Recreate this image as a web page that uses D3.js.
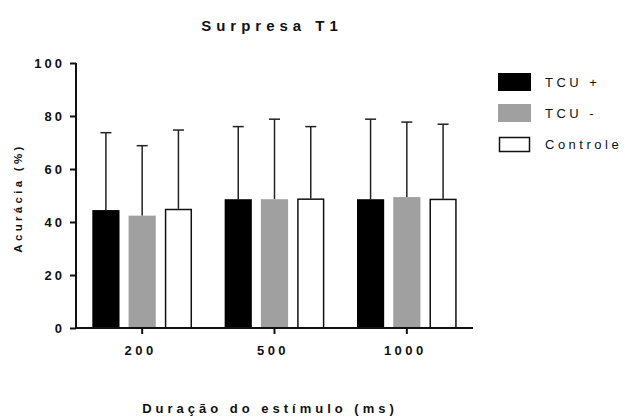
<!DOCTYPE html>
<html lang="pt">
<head>
    <style>
        body { margin: 0; background: #fff; }
        text { font-family: "Liberation Sans", Arial, sans-serif; fill: #111; }
    </style>
    <script src="https://d3js.org/d3.v7.min.js"></script>
</head>
<body>
    <svg width="626" height="419"></svg>
    <script>
        // data
        var durations = ["200", "500", "1000"];
        var groups = ["TCU +", "TCU -", "Controle"];
        var tcuPos = [44.5, 48.6, 48.6];
        var tcuNeg = [42.4, 48.6, 49.4];
        var controle = [45.0, 48.9, 48.8];
        var sdTcuPos = [29.2, 27.4, 30.2];
        var sdTcuNeg = [26.4, 30.2, 28.3];
        var sdControle = [29.7, 27.1, 28.1];
        var yTicks = [0, 20, 40, 60, 80, 100];

        var means = [tcuPos, tcuNeg, controle];
        var sds = [sdTcuPos, sdTcuNeg, sdControle];
        var fills = ["#000000", "#a0a0a0", "#ffffff"];

        var svg = d3.select("svg");

        var x = d3.scaleBand().domain(durations).range([76, 473]);
        var xi = d3.scaleBand().domain(groups).range([0, x.bandwidth()])
            .paddingInner(0.25).paddingOuter(0.45);
        var y = d3.scaleLinear().domain([0, 100]).range([328, 63]);

        var rows = [];
        durations.forEach(function(d, i) {
            groups.forEach(function(g, j) {
                rows.push({dur: d, grp: g, j: j, mean: means[j][i], sd: sds[j][i]});
            });
        });

        // error bars (upper only)
        var eb = svg.append("g").attr("stroke", "#222").attr("stroke-width", 1.5);
        rows.forEach(function(r) {
            var cx = x(r.dur) + xi(r.grp) + xi.bandwidth() / 2;
            eb.append("line").attr("x1", cx).attr("x2", cx)
              .attr("y1", y(r.mean)).attr("y2", y(r.mean + r.sd));
            eb.append("line").attr("x1", cx - 5.5).attr("x2", cx + 5.5)
              .attr("y1", y(r.mean + r.sd)).attr("y2", y(r.mean + r.sd));
        });

        // bars
        svg.append("g").selectAll("rect")
            .data(rows)
            .enter().append("rect")
            .attr("x", function(r) { return x(r.dur) + xi(r.grp) + (r.j == 2 ? 0.75 : 0); })
            .attr("y", function(r) { return y(r.mean) + (r.j == 2 ? 0.75 : 0); })
            .attr("width", function(r) { return xi.bandwidth() - (r.j == 2 ? 1.5 : 0); })
            .attr("height", function(r) { return y(0) - y(r.mean) - (r.j == 2 ? 0.75 : 0); })
            .attr("fill", function(r) { return fills[r.j]; })
            .attr("stroke", function(r) { return r.j == 2 ? "#111" : "none"; })
            .attr("stroke-width", 1.5);

        // y axis
        var yAxis = svg.append("g")
            .attr("transform", "translate(76,0)")
            .call(d3.axisLeft(y).tickValues(yTicks).tickSize(6).tickPadding(5));
        yAxis.select(".domain").attr("stroke", "#111").attr("stroke-width", 2)
            .attr("d", "M0," + y(100) + "V" + y(0));
        yAxis.selectAll(".tick line").attr("stroke", "#111").attr("stroke-width", 2);
        yAxis.selectAll(".tick text")
            .attr("font-size", 13).attr("font-weight", "bold")
            .attr("letter-spacing", 3)
            .style("font-family", "Liberation Sans, Arial, sans-serif").attr("fill", "#111");

        // x axis
        var xAxis = svg.append("g")
            .attr("transform", "translate(0," + y(0) + ")")
            .call(d3.axisBottom(x).tickSize(6).tickPadding(12));
        xAxis.select(".domain").attr("stroke", "#111").attr("stroke-width", 2)
            .attr("d", "M75,0H473");
        xAxis.selectAll(".tick line").attr("stroke", "#111").attr("stroke-width", 2);
        xAxis.selectAll(".tick text")
            .attr("font-size", 13).attr("font-weight", "bold")
            .attr("letter-spacing", 3.5).attr("dx", -1.5)
            .style("font-family", "Liberation Sans, Arial, sans-serif").attr("fill", "#111");

        // titles
        svg.append("text")
            .attr("x", 272).attr("y", 31)
            .attr("text-anchor", "middle")
            .attr("font-size", 15).attr("font-weight", "bold")
            .attr("letter-spacing", 5)
            .text("Surpresa T1");

        svg.append("text")
            .attr("transform", "translate(22,198) rotate(-90)")
            .attr("text-anchor", "middle")
            .attr("font-size", 11.5).attr("font-weight", "bold")
            .attr("letter-spacing", 3.3)
            .text("Acurácia (%)");

        svg.append("text")
            .attr("x", 270).attr("y", 413)
            .attr("text-anchor", "middle")
            .attr("font-size", 13).attr("font-weight", "bold")
            .attr("letter-spacing", 4)
            .text("Duração do estímulo (ms)");

        // legend
        var legend = svg.append("g");
        groups.forEach(function(g, j) {
            var ly = 73 + j * 31;
            if (j == 2) {
                legend.append("rect").attr("x", 499.5).attr("y", ly + 2.5)
                    .attr("width", 30).attr("height", 14)
                    .attr("fill", "#fff").attr("stroke", "#111").attr("stroke-width", 1.5);
            } else {
                legend.append("rect").attr("x", 498).attr("y", ly)
                    .attr("width", 33).attr("height", 18).attr("fill", fills[j]);
            }
            legend.append("text")
                .attr("x", 545).attr("y", ly + 14)
                .attr("font-size", 13).attr("letter-spacing", 3.5)
                .text(g);
        });
    </script>
</body>
</html>
